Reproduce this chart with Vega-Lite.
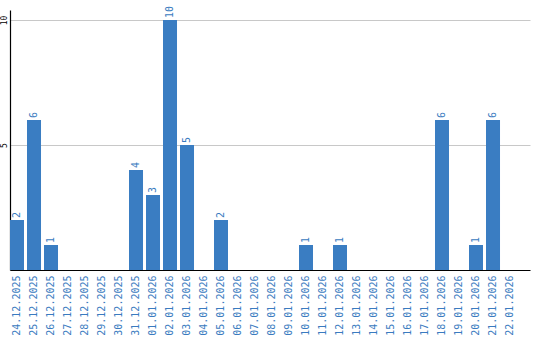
{
  "$schema": "https://vega.github.io/schema/vega-lite/v6.json",
  "width": 520,
  "height": 260,
  "autosize": {"type": "none"},
  "padding": {"left": 10, "top": 10, "right": 10, "bottom": 70},
  "background": "white",
  "data": {
    "values": [
      {"date": "24.12.2025", "count": 2},
      {"date": "25.12.2025", "count": 6},
      {"date": "26.12.2025", "count": 1},
      {"date": "27.12.2025", "count": 0},
      {"date": "28.12.2025", "count": 0},
      {"date": "29.12.2025", "count": 0},
      {"date": "30.12.2025", "count": 0},
      {"date": "31.12.2025", "count": 4},
      {"date": "01.01.2026", "count": 3},
      {"date": "02.01.2026", "count": 10},
      {"date": "03.01.2026", "count": 5},
      {"date": "04.01.2026", "count": 0},
      {"date": "05.01.2026", "count": 2},
      {"date": "06.01.2026", "count": 0},
      {"date": "07.01.2026", "count": 0},
      {"date": "08.01.2026", "count": 0},
      {"date": "09.01.2026", "count": 0},
      {"date": "10.01.2026", "count": 1},
      {"date": "11.01.2026", "count": 0},
      {"date": "12.01.2026", "count": 1},
      {"date": "13.01.2026", "count": 0},
      {"date": "14.01.2026", "count": 0},
      {"date": "15.01.2026", "count": 0},
      {"date": "16.01.2026", "count": 0},
      {"date": "17.01.2026", "count": 0},
      {"date": "18.01.2026", "count": 6},
      {"date": "19.01.2026", "count": 0},
      {"date": "20.01.2026", "count": 1},
      {"date": "21.01.2026", "count": 6},
      {"date": "22.01.2026", "count": 0}
    ]
  },
  "config": {
    "view": {"stroke": null},
    "font": "DejaVu Sans Mono"
  },
  "encoding": {
    "x": {
      "field": "date",
      "type": "ordinal",
      "sort": null,
      "scale": {"paddingInner": 0.176, "paddingOuter": 0.382, "align": 0},
      "axis": {
        "title": null,
        "labelAngle": 270,
        "labelAlign": "right",
        "labelBaseline": "middle",
        "labelColor": "#3a7bc0",
        "labelFont": "DejaVu Sans Mono",
        "labelFontSize": 10,
        "labelPadding": 5,
        "ticks": false,
        "domainColor": "#000000",
        "domainWidth": 1.2
      }
    },
    "y": {
      "field": "count",
      "type": "quantitative",
      "scale": {"domain": [0, 10.4], "nice": false},
      "axis": {
        "title": null,
        "values": [5, 10],
        "labelAngle": 270,
        "labelAlign": "center",
        "labelBaseline": "bottom",
        "labelColor": "#000000",
        "labelFont": "DejaVu Sans Mono",
        "labelFontSize": 8,
        "labelPadding": 2,
        "ticks": false,
        "domainColor": "#000000",
        "domainWidth": 1.2,
        "grid": true,
        "gridColor": "#c8c8c8",
        "gridWidth": 1
      }
    }
  },
  "layer": [
    {
      "mark": {"type": "bar", "color": "#3a7dc2"}
    },
    {
      "transform": [{"filter": "datum.count > 0"}],
      "mark": {
        "type": "text",
        "angle": 270,
        "align": "left",
        "baseline": "middle",
        "dx": 2,
        "font": "DejaVu Sans Mono",
        "fontSize": 10,
        "color": "#3a7bc0"
      },
      "encoding": {
        "text": {"field": "count", "type": "quantitative"}
      }
    }
  ]
}
